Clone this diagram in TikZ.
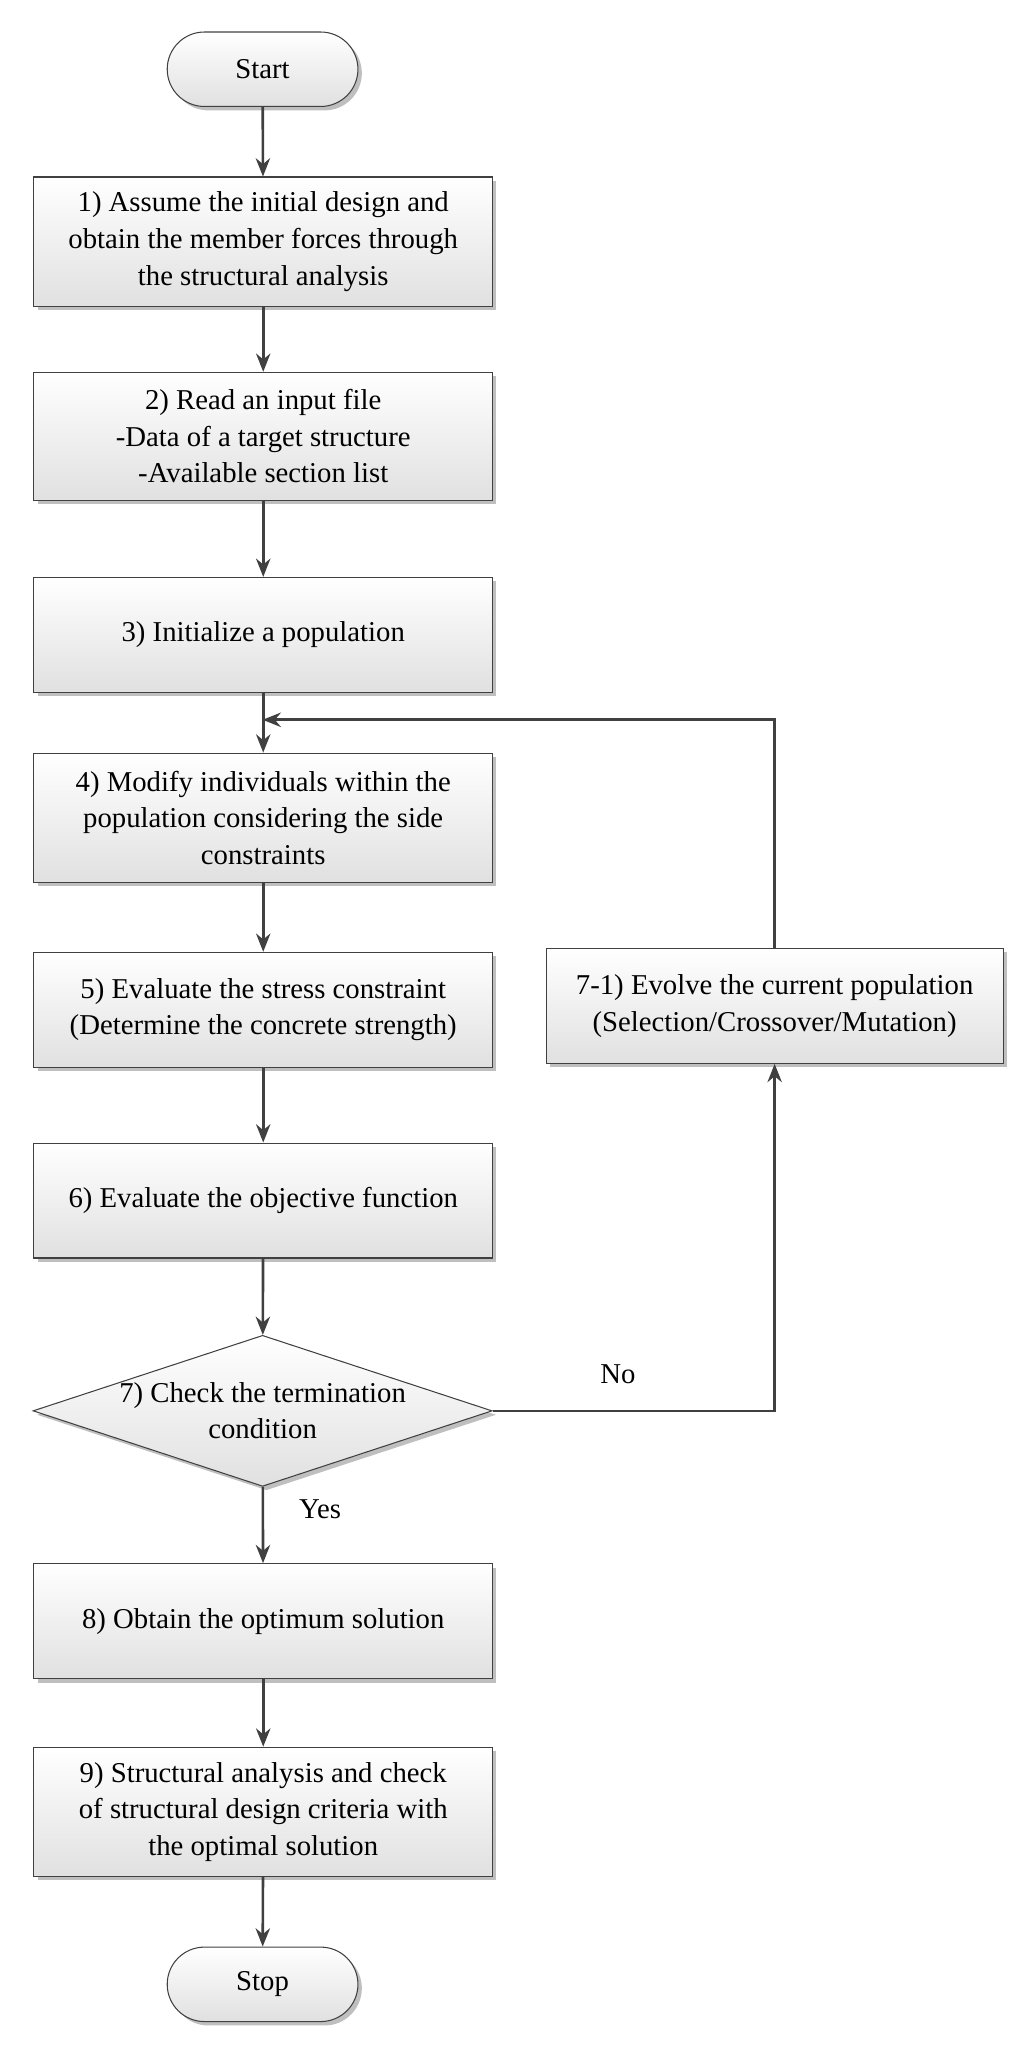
\documentclass[tikz,border=0pt]{standalone}
\usepackage{fontspec}
\setmainfont{Liberation Serif}
\usetikzlibrary{shapes.geometric,arrows.meta,shadows}
\begin{document}
\begin{tikzpicture}[x=1pt,y=-1pt,
 base/.style={draw=black!75,line width=0.8pt,top color=white,bottom color=black!12,
   drop shadow={shadow xshift=3pt,shadow yshift=-3pt,fill=black!25,opacity=1},
   font=\fontsize{22}{28}\selectfont,align=center,inner sep=0pt},
 box/.style={base,rectangle,minimum width=351pt},
 term/.style={base,rounded rectangle,minimum width=146pt,minimum height=57pt},
 dec/.style={base,diamond,aspect=3.04,minimum width=350pt,minimum height=115pt},
 arr/.style={draw=black!75,line width=2pt,-{Stealth[length=14pt,width=11pt]}},
 lbl/.style={font=\fontsize{22}{28}\selectfont}]
\useasboundingbox (0,0) rectangle (784,1580);
\usetikzlibrary{shapes.misc}
\node[term] (start) at (201,53) {Start};
\node[box,minimum height=99pt] (b1) at (201.5,185) {1) Assume the initial design and\\obtain the member forces through\\the structural analysis};
\node[box,minimum height=98pt] (b2) at (201.5,334) {2) Read an input file\\-Data of a target structure\\-Available section list};
\node[box,minimum height=88pt] (b3) at (201.5,486) {3) Initialize a population};
\node[box,minimum height=99pt] (b4) at (201.5,626) {4) Modify individuals within the\\population considering the side\\constraints};
\node[box,minimum height=88pt] (b5) at (201.5,773) {5) Evaluate the stress constraint\\(Determine the concrete strength)};
\node[box,minimum height=88pt] (b6) at (201.5,919) {6) Evaluate the objective function};
\node[dec] (d7) at (201,1080) {7) Check the termination\\condition};
\node[box,minimum height=88pt] (b8) at (201.5,1241) {8) Obtain the optimum solution};
\node[box,minimum height=99pt] (b9) at (201.5,1387) {9) Structural analysis and check\\of structural design criteria with\\the optimal solution};
\node[term] (stop) at (201,1519) {Stop};
\node[box,minimum height=88pt,minimum width=350pt] (b71) at (593,770) {7-1) Evolve the current population\\(Selection/Crossover/Mutation)};
\coordinate (m) at (201,551);
\coordinate (c) at (593,1080);
\draw[arr] (start) -- (b1);
\draw[arr] (b1) -- (b2);
\draw[arr] (b2) -- (b3);
\draw[arr] (b3) -- (b4);
\draw[arr] (b4) -- (b5);
\draw[arr] (b5) -- (b6);
\draw[arr] (b6) -- (d7);
\draw[arr] (d7) -- (b8);
\draw[arr] (b8) -- (b9);
\draw[arr] (b9) -- (stop);
\draw[arr] (b71.north) |- (m);
\draw[arr] (d7.east) -- (c) -- (b71.south);
\node[lbl] (no) at (473,1052) {No};
\node[lbl] (yes) at (245,1155) {Yes};
\end{tikzpicture}
\end{document}
